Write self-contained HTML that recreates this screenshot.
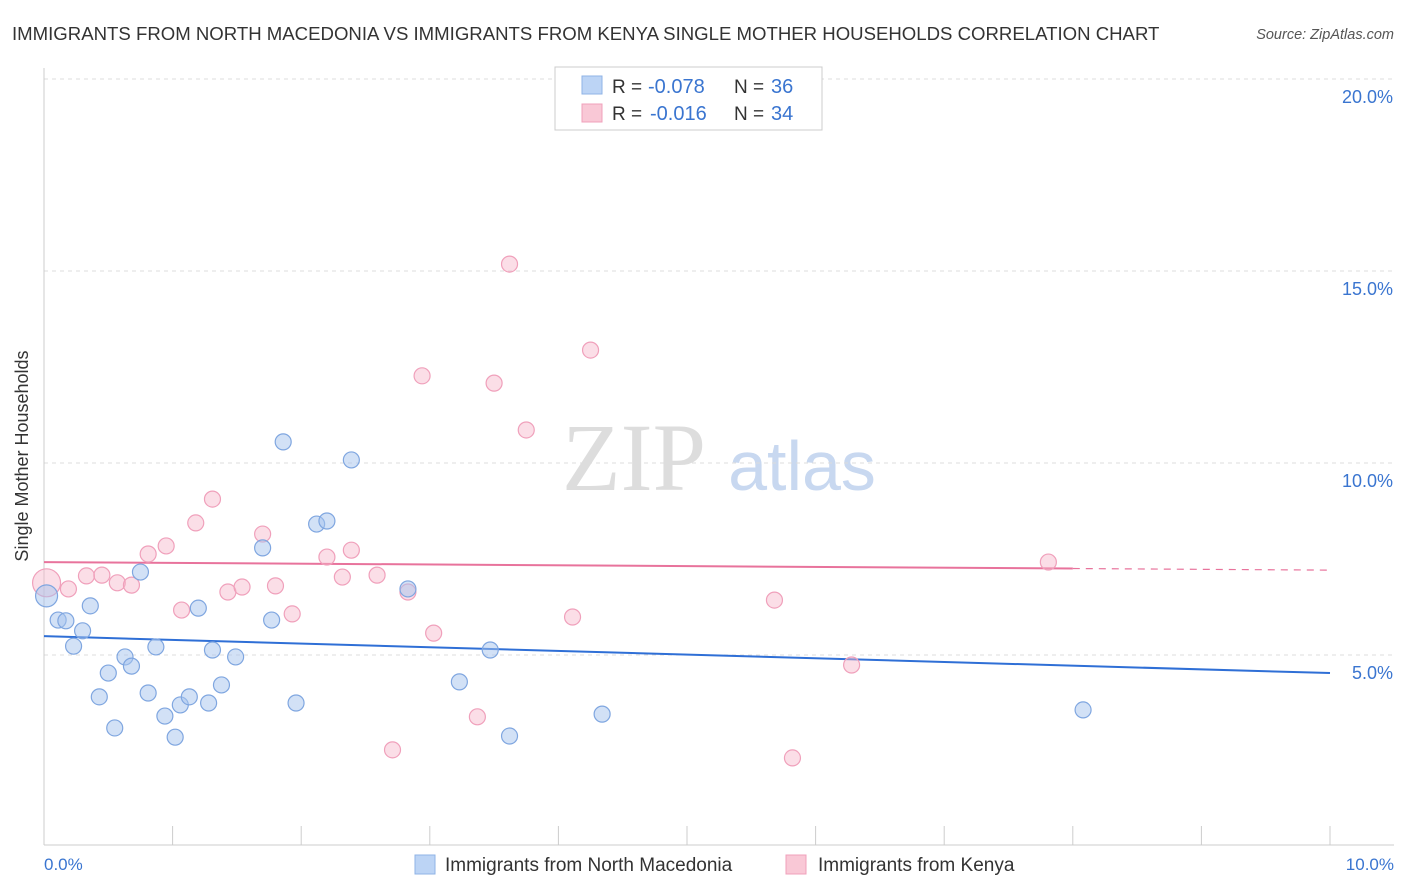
<!DOCTYPE html>
<html><head><meta charset="utf-8"><style>
body{margin:0;background:#fff;font-family:"Liberation Sans",sans-serif}
svg{display:block}
</style></head><body>
<svg width="1406" height="892" id="c">
<text x="12" y="40" font-size="18.6" fill="#333">IMMIGRANTS FROM NORTH MACEDONIA VS IMMIGRANTS FROM KENYA SINGLE MOTHER HOUSEHOLDS CORRELATION CHART</text>
<text x="1394" y="39" font-size="14.5" fill="#555" font-style="italic" text-anchor="end">Source: ZipAtlas.com</text>
<text x="634" y="490" font-size="96" fill="#ddd" font-family="Liberation Serif,serif" text-anchor="middle">ZIP</text>
<text x="802" y="490" font-size="70" fill="#c8d8f0" text-anchor="middle">atlas</text>
<g id="grid"></g>
<line x1="44" y1="68" x2="44" y2="845" stroke="#ccc"/>
<line x1="44" y1="845" x2="1394" y2="845" stroke="#ccc"/>
<text x="28" y="456" font-size="18" fill="#333" text-anchor="middle" transform="rotate(-90 28 456)">Single Mother Households</text>
<text x="44" y="870" font-size="17" fill="#3a75d0">0.0%</text>
<text x="1394" y="870" font-size="17" fill="#3a75d0" text-anchor="end">10.0%</text>
<g id="lines"></g>
<g id="pts"></g>
<g>
<rect x="555" y="67" width="267" height="63" fill="#fff" stroke="#ccc"/>
<rect x="582" y="76" width="20" height="18" fill="#bcd4f5" stroke="#8fb3e6"/>
<rect x="582" y="104" width="20" height="18" fill="#f9c8d6" stroke="#f0a0bb"/>
<text x="612" y="93" font-size="19" fill="#333">R =</text>
<text x="648" y="93" font-size="20" fill="#3a75d0">-0.078</text>
<text x="734" y="93" font-size="19" fill="#333">N =</text>
<text x="771" y="93" font-size="20" fill="#3a75d0">36</text>
<text x="612" y="120" font-size="19" fill="#333">R =</text>
<text x="650" y="120" font-size="20" fill="#3a75d0">-0.016</text>
<text x="734" y="120" font-size="19" fill="#333">N =</text>
<text x="771" y="120" font-size="20" fill="#3a75d0">34</text>
</g>
<g>
<rect x="415" y="855" width="20" height="19" fill="#bcd4f5" stroke="#8fb3e6"/>
<text x="445" y="871" font-size="19" fill="#333">Immigrants from North Macedonia</text>
<rect x="786" y="855" width="20" height="19" fill="#f9c8d6" stroke="#f0a0bb"/>
<text x="818" y="871" font-size="19" fill="#333">Immigrants from Kenya</text>
</g>
</svg>
<script>
const yTicks=[5,10,15,20];
const yTickLabels=["5.0%","10.0%","15.0%","20.0%"];
const blueX=[0.02,0.11,0.17,0.23,0.30,0.36,0.43,0.50,0.55,0.63,0.68,0.75,0.81,0.87,0.94,1.02,1.06,1.13,1.20,1.28,1.31,1.38,1.49,1.70,1.77,1.86,1.96,2.12,2.20,2.39,2.83,3.23,3.47,3.62,4.34,8.08];
const blueY=[6.54,5.91,5.89,5.23,5.63,6.28,3.91,4.53,3.10,4.95,4.71,7.16,4.01,5.21,3.41,2.86,3.70,3.91,6.22,3.75,5.13,4.22,4.95,7.79,5.91,10.55,3.75,8.41,8.49,10.08,6.72,4.30,5.13,2.89,3.46,3.57];
const pinkX=[0.02,0.19,0.33,0.45,0.57,0.68,0.81,0.95,1.07,1.18,1.31,1.43,1.54,1.70,1.80,1.93,2.20,2.32,2.39,2.59,2.83,2.94,3.03,3.37,3.50,3.62,3.75,4.11,4.25,5.68,5.82,6.28,7.81,2.71];
const pinkY=[6.88,6.72,7.06,7.08,6.88,6.82,7.63,7.84,6.17,8.44,9.06,6.64,6.77,8.15,6.80,6.07,7.55,7.03,7.73,7.08,6.64,12.27,5.57,3.39,12.08,15.18,10.86,5.99,12.94,6.43,2.32,4.74,7.42,2.53];
const blueTrend=[5.49,4.53];
const pinkTrend=[7.42,7.21];
const NS="http://www.w3.org/2000/svg";
const sx=v=>44+v*128.6, sy=v=>847-v*38.4;
function mk(t,a,p){const e=document.createElementNS(NS,t);for(const k in a)e.setAttribute(k,a[k]);p.appendChild(e);return e;}
const grid=document.getElementById('grid');
yTicks.forEach((t,i)=>{
 const l=mk('line',{x1:44,x2:1394,y1:sy(t),y2:sy(t),stroke:'#ddd','stroke-dasharray':'4,4'},grid);
 
 
 const tx=mk('text',{x:1393,y:sy(t)+24,'font-size':18,fill:'#3a75d0','text-anchor':'end'},grid);
 tx.textContent=yTickLabels[i];
 
 
});
for(let i=0;i<=10;i++){
 const l=mk('line',{x1:sx(i),x2:sx(i),y1:826,y2:845,stroke:'#ccc'},grid);
 
 
}
const lines=document.getElementById('lines');
let b=mk('line',{x1:sx(0),y1:sy(blueTrend[0]),x2:sx(10),y2:sy(blueTrend[1]),stroke:'#2f6fd6','stroke-width':2},lines);


const pAt=x=>pinkTrend[0]+(pinkTrend[1]-pinkTrend[0])*x/10;
let p=mk('line',{x1:sx(0),y1:sy(pAt(0)),x2:sx(8),y2:sy(pAt(8)),stroke:'#e8739c','stroke-width':2},lines);


let pd=mk('line',{x1:sx(8),y1:sy(pAt(8)),x2:sx(10),y2:sy(pAt(10)),stroke:'#e8739c','stroke-width':1.2,'stroke-dasharray':'7,6'},lines);


const pts=document.getElementById('pts');
pinkX.forEach((x,i)=>{
 const c=mk('circle',{cx:sx(x),cy:sy(pinkY[i]),r:i==0?14:8,fill:'rgba(246,182,202,0.45)',stroke:'#f0a0bb','stroke-width':1.2},pts);
 
 
});
blueX.forEach((x,i)=>{
 const c=mk('circle',{cx:sx(x),cy:sy(blueY[i]),r:i==0?11:8,fill:'rgba(165,195,238,0.5)',stroke:'#7fa6e0','stroke-width':1.2},pts);
 
 
});
</script>
</body></html>
